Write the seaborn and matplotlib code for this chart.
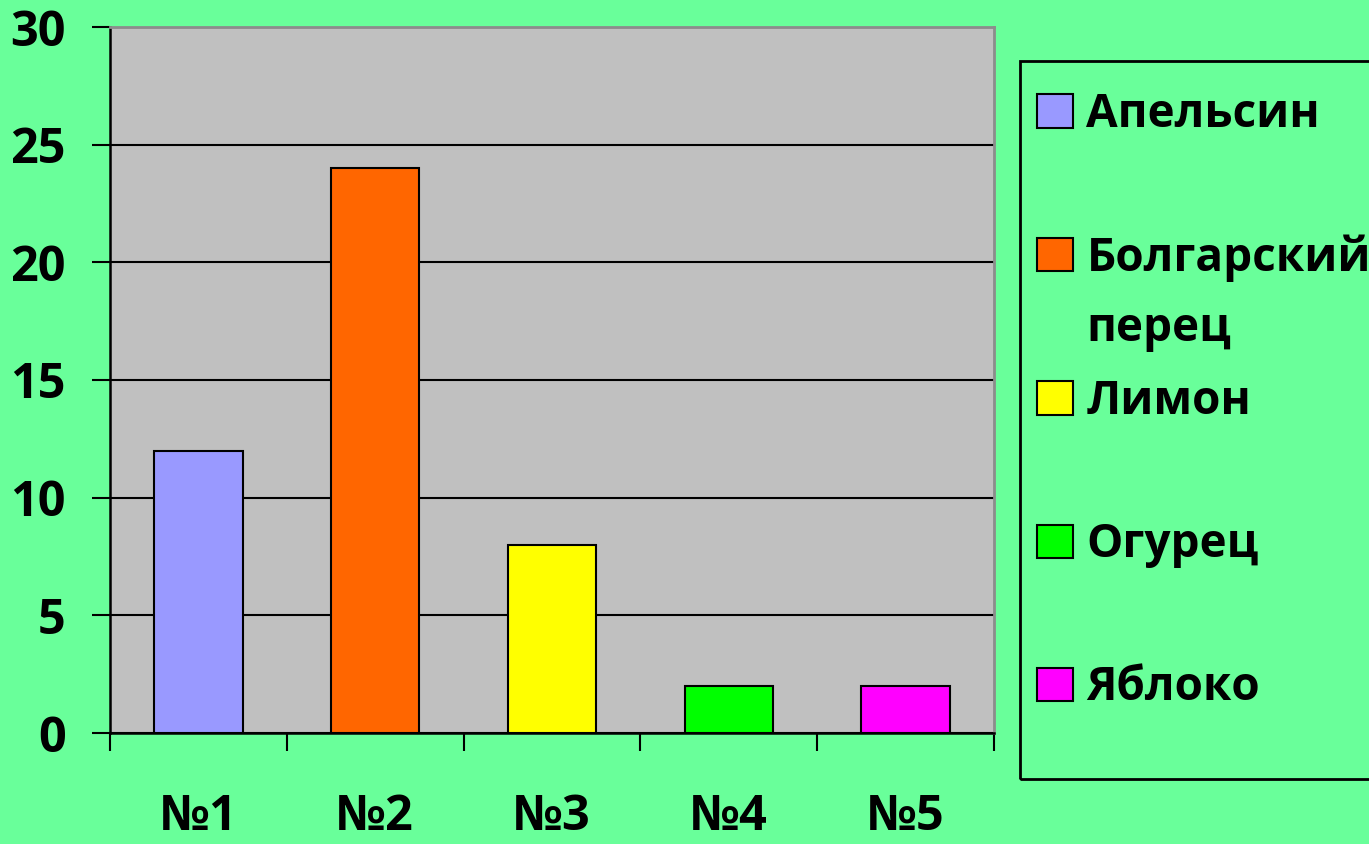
import matplotlib
matplotlib.use("Agg")
import matplotlib.pyplot as plt
from matplotlib.patches import Patch, Rectangle
import seaborn as sns
import pandas as pd
import numpy as np

# Survey data
samples = ["№1", "№2", "№3", "№4", "№5"]
products = ["Апельсин", "Болгарский перец", "Лимон", "Огурец", "Яблоко"]
counts = [12, 24, 8, 2, 2]
colors = ["#9999FF", "#FF6600", "#FFFF00", "#00FF00", "#FF00FF"]
y_ticks = [0, 5, 10, 15, 20, 25, 30]

BG = "#69FF9A"
PLOT_BG = "#C0C0C0"

sns.set_theme(style="white")
plt.rcParams["font.family"] = ["Open Sans", "DejaVu Sans"]
plt.rcParams["font.weight"] = "bold"
plt.rcParams["text.color"] = "black"
plt.rcParams["xtick.color"] = "black"
plt.rcParams["ytick.color"] = "black"
plt.rcParams["xtick.labelcolor"] = "black"
plt.rcParams["ytick.labelcolor"] = "black"

W, H = 1369, 844
fig = plt.figure(figsize=(W / 100, H / 100), dpi=100, facecolor=BG)
ax = fig.add_axes([110 / W, 1 - 733 / H, (994 - 110) / W, (733 - 27) / H])
ax.set_facecolor(PLOT_BG)

df = pd.DataFrame({"sample": samples, "product": products, "count": counts})
sns.barplot(data=df, x="sample", y="count", hue="product", palette=colors,
            saturation=1, dodge=False, width=0.5, edgecolor="black",
            linewidth=1.5, legend=False, ax=ax, zorder=3)

ax.set_ylim(0, 30)
ax.set_xlim(-0.5, len(samples) - 0.5)
ax.set_yticks(y_ticks)
ax.set_yticklabels([str(v) for v in y_ticks])
ax.tick_params(axis="y", direction="out", length=13, width=1.5, color="black",
               labelcolor="black", pad=19, labelsize=35, left=True)

# category boundaries carry the tick marks, labels sit between them
ax.set_xticks(np.arange(-0.5, len(samples), 1.0))
ax.set_xticklabels([])
ax.set_xticks(np.arange(len(samples)), minor=True)
ax.set_xticklabels(samples, minor=True, fontsize=35, fontweight="bold",
                   color="black")
ax.tick_params(axis="x", which="major", direction="out", length=13, width=1.5,
               color="black", bottom=True)
ax.tick_params(axis="x", which="minor", length=0, pad=43)
for lbl in ax.get_yticklabels():
    lbl.set_fontweight("bold")

ax.set_axisbelow(True)
ax.yaxis.grid(True, color="black", linewidth=1.5)
ax.xaxis.grid(False)
ax.set_xlabel("")
ax.set_ylabel("")

for side in ["left", "bottom"]:
    ax.spines[side].set_color("black")
    ax.spines[side].set_linewidth(1.8)
for side in ["top", "right"]:
    ax.spines[side].set_color("#8C8C8C")
    ax.spines[side].set_linewidth(2)

# legend frame
fig.patches.append(Rectangle((1020 / W, 1 - 779 / H), 360 / W, (779 - 61) / H,
                             transform=fig.transFigure, facecolor="none",
                             edgecolor="black", linewidth=2, zorder=5))

first_lines = [p.split(" ")[0] for p in products]
handles = [Patch(facecolor=c, edgecolor="black", linewidth=1.5) for c in colors]
leg = fig.legend(handles, first_lines, loc="upper left",
                 bbox_to_anchor=(1037 / W, 1 - 91 / H), frameon=False,
                 prop={"weight": "bold", "size": 33},
                 handlelength=0.78, handleheight=0.74, handletextpad=0.3,
                 labelspacing=2.1, borderpad=0, borderaxespad=0,
                 labelcolor="black")

fig.canvas.draw()
bb = leg.get_texts()[1].get_window_extent()
fig.text(bb.x0 / W, (bb.y0 - 70) / H, products[1].split(" ")[1],
         fontsize=33, fontweight="bold", va="bottom", ha="left", color="black")

fig.savefig("out.png", dpi=100, facecolor=BG)
